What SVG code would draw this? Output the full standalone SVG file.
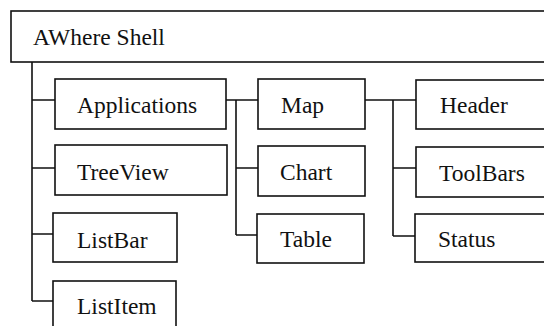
<svg xmlns="http://www.w3.org/2000/svg" width="544" height="326" viewBox="0 0 544 326">
<style>
.box{fill:#fff;stroke:#111;stroke-width:1.6}
text{font-family:"Liberation Serif",serif;font-size:23.5px;fill:#111}
.con{fill:none;stroke:#111;stroke-width:1.6}
</style>
<rect width="544" height="326" fill="#fff"/>
<g id="connectors">
<path class="con" d="M32,62 V301 M32,100 H55 M32,168 H55 M32,234 H53 M32,301 H53"/>
<path class="con" d="M226,100 H258 M236,100 V235 M236,168 H258 M236,235 H257"/>
<path class="con" d="M365,100 H416 M393,100 V236 M393,168 H416 M393,236 H415"/>
</g>
<g id="shell"><rect class="box" x="11" y="11" width="545" height="51"/><text x="33" y="45">AWhere Shell</text></g>
<g id="applications"><rect class="box" x="55" y="79" width="171" height="50"/><text x="77" y="113">Applications</text></g>
<g id="treeview"><rect class="box" x="55" y="145" width="172" height="50"/><text x="77" y="180">TreeView</text></g>
<g id="listbar"><rect class="box" x="53" y="213" width="124" height="49"/><text x="77" y="248">ListBar</text></g>
<g id="listitem"><rect class="box" x="53" y="281" width="123" height="60"/><text x="77" y="314">ListItem</text></g>
<g id="map"><rect class="box" x="258" y="79" width="107" height="50"/><text x="281" y="113">Map</text></g>
<g id="chart"><rect class="box" x="258" y="146" width="107" height="50"/><text x="280" y="180">Chart</text></g>
<g id="table"><rect class="box" x="257" y="214" width="107" height="49"/><text x="280" y="247">Table</text></g>
<g id="header"><rect class="box" x="416" y="80" width="140" height="49"/><text x="440" y="113">Header</text></g>
<g id="toolbars"><rect class="box" x="416" y="147" width="140" height="50"/><text x="439" y="181">ToolBars</text></g>
<g id="status"><rect class="box" x="415" y="214" width="141" height="48"/><text x="438" y="247">Status</text></g>
</svg>
